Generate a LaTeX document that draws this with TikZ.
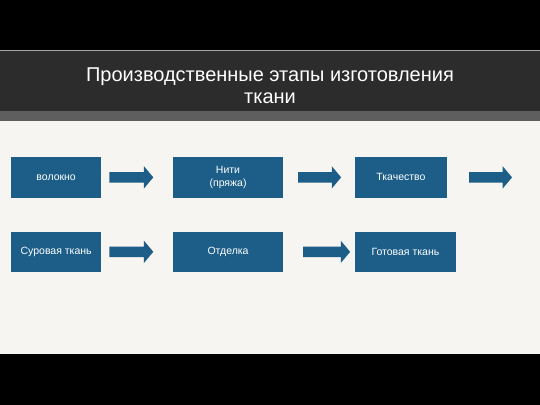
\documentclass[tikz,border=0pt]{standalone}
\usepackage{fontspec}
\setmainfont{Liberation Sans}
\usetikzlibrary{shapes.arrows}
\definecolor{stageblue}{HTML}{1C5E88}
\definecolor{paper}{HTML}{F6F5F1}
\definecolor{slate}{HTML}{2C2C2C}

\begin{document}
\begin{tikzpicture}[x=1pt, y=-1pt,
    stage/.style={fill=stageblue, text=white, font=\fontsize{10.5}{12.5}\selectfont,
                  minimum height=40pt, inner sep=0pt, align=center},
    blockarrow/.style={single arrow, fill=stageblue, inner sep=0pt, text height=5pt, text depth=5pt,
                  minimum width=22pt, single arrow head extend=6pt, single arrow tip angle=100, anchor=tail}]
    \pgfmathsetmacro{\rowone}{177.5}
    \pgfmathsetmacro{\rowtwo}{252}

    % background bands
    \fill [black] (0,0) rectangle (540,405);
    \fill [slate] (0,50) rectangle (540,111);
    \draw [gray!70] (0,50.5) -- (540,50.5);
    \fill [gray!60!slate] (0,111) rectangle (540,121);
    \fill [paper] (0,121) rectangle (540,354);
    \useasboundingbox (0,0) rectangle (540,405);

    \node [text=white, font=\fontsize{20}{22}\selectfont, align=center] (title) at (270,86)
        {Производственные этапы изготовления\\ткани};

    % first row
    \node [stage, minimum width=90pt, minimum height=41pt] (fibre) at (56,\rowone) {волокно};
    \node [stage, minimum width=110pt, minimum height=41pt] (yarn) at (228,\rowone) {Нити\\(пряжа)};
    \node [stage, minimum width=92pt, minimum height=41pt] (weaving) at (401,\rowone) {Ткачество};
    \node [blockarrow, minimum height=44pt] (fibretoyarn) at (109,\rowone) {};
    \node [blockarrow, minimum height=43pt] (yarntoweaving) at (298,\rowone) {};
    \node [blockarrow, minimum height=43pt] (weavingout) at (469,\rowone) {};

    % second row
    \node [stage, minimum width=90pt] (grey) at (56,\rowtwo) {Суровая ткань};
    \node [stage, minimum width=110pt] (finish) at (228,\rowtwo) {Отделка};
    \node [stage, minimum width=101pt] (ready) at (405.5,\rowtwo) {Готовая ткань};
    \node [blockarrow, minimum height=44pt] (greytofinish) at (109,\rowtwo) {};
    \node [blockarrow, minimum height=47pt] (finishtoready) at (303,\rowtwo) {};
\end{tikzpicture}
\end{document}
